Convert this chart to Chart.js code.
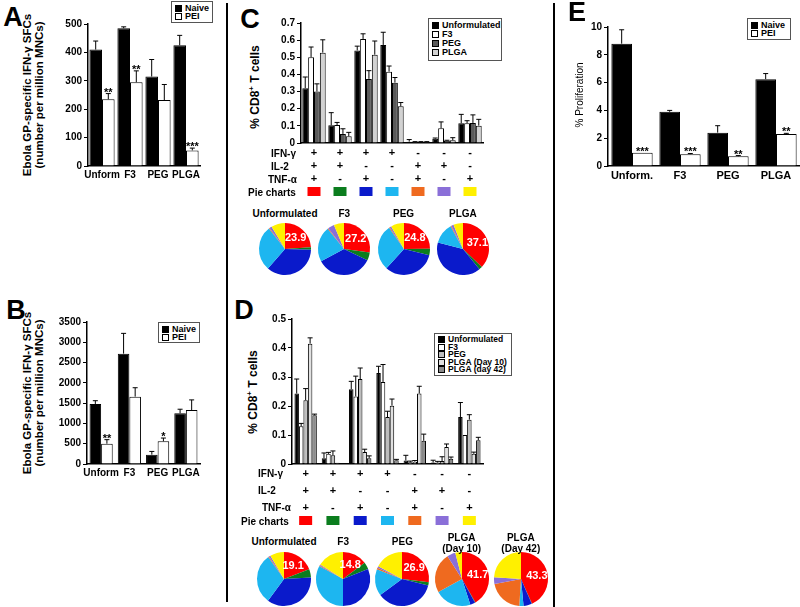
<!DOCTYPE html>
<html lang="en">
<head>
<meta charset="UTF-8">
<title>Ebola GP formulations</title>
<script src="https://cdn.jsdelivr.net/npm/chart.js"></script>
<style>
  body { margin: 0; background: #fff; }
  #fig { position: relative; width: 800px; height: 607px; overflow: hidden; font-family: "Liberation Sans", Arial, sans-serif; font-weight: bold; color: #000; }
  #fig canvas { position: absolute; }
  .t { position: absolute; white-space: nowrap; }
  .lg { position: absolute; border: 1px solid #555; background: #fff; font-size: 9px; line-height: 9px; padding: 2px 3px; box-sizing: border-box; white-space: nowrap; }
  .lg div { display: flex; align-items: center; }
  .lg span { display: inline-block; width: 7px; height: 7px; border: 1px solid #000; margin-right: 3px; box-sizing: border-box; flex: none; }
  .vline { position: absolute; width: 2px; background: #000; }
</style>
</head>
<body>
<div id="fig"></div>
<script>
  // ---- data ----
  const groups = ['Unform', 'F3', 'PEG', 'PLGA'];
  const groupsE = ['Unform.', 'F3', 'PEG', 'PLGA'];

  // A - IFN-γ SFCs per million MNCs
  const aNaive = [410, 485, 315, 425];
  const aNaiveErr = [30, 5, 60, 35];
  const aPei = [235, 295, 232, 55];
  const aPeiErr = [20, 40, 55, 8];
  const aSig = ['**', '**', '', '***'];

  // B
  const bNaive = [1480, 2720, 230, 1250];
  const bNaiveErr = [80, 500, 80, 100];
  const bPei = [500, 1660, 560, 1330];
  const bPeiErr = [100, 220, 80, 250];
  const bSig = ['**', '', '*', ''];

  // E - % proliferation
  const eNaive = [8.8, 3.9, 2.4, 6.25];
  const eNaiveErr = [1.0, 0.1, 0.5, 0.4];
  const ePei = [0.95, 0.85, 0.7, 2.3];
  const ePeiErr = [0, 0.05, 0.05, 0.05];
  const eSig = ['***', '***', '**', '**'];

  // cytokine combinations
  const ifn = ['+', '+', '+', '+', '-', '-', '-'];
  const il2 = ['+', '+', '-', '-', '+', '+', '-'];
  const tnf = ['+', '-', '+', '-', '+', '-', '+'];
  const comboColors = ['#ff0000', '#0b7d1e', '#0a1acb', '#1db6f0', '#ef6a1f', '#8a6fd8', '#fff000'];

  // C - % CD8+ T cells
  const cUnf = [0.32, 0.103, 0.54, 0.572, 0.008, 0.025, 0.115];
  const cUnfErr = [0.065, 0.074, 0.025, 0.074, 0.012, 0.004, 0.052];
  const cF3 = [0.50, 0.105, 0.607, 0.416, 0.005, 0.086, 0.115];
  const cF3Err = [0.06, 0.015, 0.03, 0.033, 0.003, 0.037, 0.015];
  const cPeg = [0.30, 0.053, 0.374, 0.352, 0.005, 0.013, 0.117];
  const cPegErr = [0.045, 0.03, 0.048, 0.03, 0.003, 0.003, 0.047];
  const cPlga = [0.527, 0.039, 0.515, 0.214, 0.005, 0.016, 0.101];
  const cPlgaErr = [0.075, 0.023, 0.08, 0.022, 0.003, 0.015, 0.037];

  // D
  const dUnf = [0.243, 0.02, 0.258, 0.314, 0.012, 0.005, 0.162];
  const dUnfErr = [0.05, 0.018, 0.027, 0.023, 0.018, 0.008, 0.05];
  const dF3 = [0.13, 0.035, 0.233, 0.283, 0.006, 0.005, 0.1];
  const dF3Err = [0.01, 0.005, 0.07, 0.06, 0.004, 0.004, 0];
  const dPeg = [0.22, 0.03, 0.293, 0.162, 0.008, 0.01, 0.153];
  const dPegErr = [0.04, 0.015, 0.038, 0.02, 0.004, 0.015, 0.017];
  const dPlga10 = [0.415, 0.004, 0.041, 0.201, 0.243, 0.059, 0.035];
  const dPlga10Err = [0.02, 0, 0.01, 0.023, 0.025, 0.01, 0.006];
  const dPlga42 = [0.168, 0.002, 0.02, 0.013, 0.08, 0.018, 0.082];
  const dPlga42Err = [0.004, 0, 0.008, 0.003, 0.023, 0.006, 0.01];

  // pie charts (share of each combination, %)
  const cPieTitles = ['Unformulated', 'F3', 'PEG', 'PLGA'];
  const cPies = [
    [23.9, 1.5, 36, 28, 0.5, 1.5, 8.6],
    [27.2, 5, 35, 22, 0.5, 4, 6.3],
    [24.8, 4, 33, 28.5, 0.5, 1, 8.2],
    [37.1, 2, 40, 13, 0.5, 1.5, 5.9]
  ];
  const dPieTitles = [['Unformulated'], ['F3'], ['PEG'], ['PLGA', '(Day 10)'], ['PLGA', '(Day 42)']];
  const dPies = [
    [19.1, 5, 36, 30, 0.5, 1, 8.4],
    [14.8, 4.2, 31, 33, 0.5, 0.5, 16],
    [26.9, 2, 36, 16, 1, 1, 17.1],
    [41.7, 0.3, 3, 22, 24, 5, 4],
    [43.3, 0.2, 5, 2.5, 21, 4, 24]
  ];

  // ---- helpers ----
  const fig = document.getElementById('fig');
  Chart.defaults.font.family = '"Liberation Sans", Arial, sans-serif';
  Chart.defaults.font.weight = 'bold';
  Chart.defaults.color = '#000';

  function addCanvas(x, y, w, h) {
    const c = document.createElement('canvas');
    c.width = w; c.height = h;
    c.style.left = x + 'px'; c.style.top = y + 'px';
    c.style.width = w + 'px'; c.style.height = h + 'px';
    fig.appendChild(c);
    return c;
  }

  function text(html, x, y, size, extra) {
    const d = document.createElement('div');
    d.className = 't';
    d.innerHTML = html;
    d.style.left = x + 'px';
    d.style.top = y + 'px';
    d.style.fontSize = size + 'px';
    d.style.transform = 'translate(-50%,-50%)';
    if (extra) Object.assign(d.style, extra);
    fig.appendChild(d);
    return d;
  }

  function legend(x, y, w, h, items, lh, fs) {
    const d = document.createElement('div');
    d.className = 'lg';
    Object.assign(d.style, { left: x + 'px', top: y + 'px', width: w + 'px', height: h + 'px', lineHeight: lh + 'px', fontSize: (fs || 9) + 'px' });
    d.innerHTML = items.map(it => `<div><span style="background:${it[1]}"></span>${it[0]}</div>`).join('');
    fig.appendChild(d);
  }

  const errorBars = {
    id: 'errorBars',
    afterDatasetsDraw(chart) {
      const ctx = chart.ctx, y = chart.scales.y;
      ctx.save();
      ctx.strokeStyle = '#000';
      ctx.lineWidth = 1;
      chart.data.datasets.forEach((ds, i) => {
        chart.getDatasetMeta(i).data.forEach((bar, j) => {
          const e = ds.err ? ds.err[j] : 0;
          const top = y.getPixelForValue(ds.data[j] + e);
          if (e > 0) {
            ctx.beginPath();
            ctx.moveTo(bar.x, bar.y);
            ctx.lineTo(bar.x, top);
            ctx.moveTo(bar.x - 2.5, top);
            ctx.lineTo(bar.x + 2.5, top);
            ctx.stroke();
          }
          if (ds.sig && ds.sig[j]) {
            ctx.fillStyle = '#000';
            ctx.font = 'bold 11px "Liberation Sans", Arial, sans-serif';
            ctx.textAlign = 'center';
            ctx.textBaseline = 'alphabetic';
            ctx.fillText(ds.sig[j], bar.x, top + 2);
          }
        });
      });
      ctx.restore();
    }
  };

  const swatches = {
    id: 'swatches',
    afterDraw(chart, args, opts) {
      if (!opts.y) return;
      const ctx = chart.ctx, x = chart.scales.x;
      comboColors.forEach((col, i) => {
        const px = x.getPixelForValue(i);
        ctx.fillStyle = col;
        ctx.fillRect(px - 6.5, chart.chartArea.bottom + opts.y, 13, 9);
      });
    }
  };

  function ds(label, data, err, color, sig) {
    return { label, data, err, sig, backgroundColor: color, borderColor: '#000', borderWidth: 1, borderSkipped: 'start' };
  }

  function barChart(box, labels, sets, max, step, o) {
    const yw = 30, pt = 10, pr = box.r >= 800 ? 0 : 4, xh = o.xh || 20;
    const c = addCanvas(box.l - yw, box.t - pt, box.r - box.l + yw + pr, box.b - box.t + pt + xh);
    new Chart(c, {
      type: 'bar',
      data: { labels, datasets: sets },
      options: {
        responsive: false, animation: false, devicePixelRatio: 1,
        layout: { padding: { top: pt, right: pr, left: 0, bottom: 0 } },
        datasets: { bar: { barPercentage: 1, categoryPercentage: o.cat } },
        plugins: { legend: { display: false }, tooltip: { enabled: false }, swatches: { y: o.swatchY } },
        scales: {
          x: {
            grid: { display: false, drawTicks: false },
            border: { color: '#000', width: 1.5 },
            ticks: { color: '#000', autoSkip: false, maxRotation: 0, padding: o.tickPad || 3, font: { size: o.xFont || 10, weight: 'bold', lineHeight: o.lineH || 1.2 } },
            afterFit: s => { s.height = xh; }
          },
          y: {
            min: 0, max,
            ticks: { stepSize: step, color: '#000', padding: 2, font: { size: 10, weight: 'bold' }, callback: v => String(Math.round(v * 100) / 100) },
            grid: { drawOnChartArea: false, color: '#000', tickLength: 4 },
            border: { color: '#000', width: 1.5 },
            afterFit: s => { s.width = yw; }
          }
        }
      },
      plugins: [errorBars, swatches]
    });
  }

  const pieLabel = {
    id: 'pieLabel',
    afterDraw(chart) {
      const arc = chart.getDatasetMeta(0).data[0];
      const mid = (arc.startAngle + arc.endAngle) / 2;
      const r = arc.outerRadius * 0.6;
      const ctx = chart.ctx;
      ctx.save();
      ctx.fillStyle = '#fff';
      ctx.font = 'bold 11px "Liberation Sans", Arial, sans-serif';
      ctx.textAlign = 'center';
      ctx.textBaseline = 'middle';
      ctx.fillText(chart.data.datasets[0].data[0].toFixed(1), arc.x + Math.cos(mid) * r, arc.y + Math.sin(mid) * r);
      ctx.restore();
    }
  };

  function pie(cx, cy, r, values) {
    const pad = 4;
    const c = addCanvas(cx - r - pad, cy - r - pad, 2 * (r + pad), 2 * (r + pad));
    new Chart(c, {
      type: 'pie',
      data: { labels: ifn.map((v, i) => v + il2[i] + tnf[i]), datasets: [{ data: values, backgroundColor: comboColors, borderWidth: 0, hoverOffset: 0 }] },
      options: {
        responsive: false, animation: false, devicePixelRatio: 1,
        layout: { padding: pad },
        plugins: { legend: { display: false }, tooltip: { enabled: false } }
      },
      plugins: [pieLabel]
    });
  }

  // ---- panels ----
  const combos = ifn.map((v, i) => [v, il2[i], tnf[i]]);

  barChart({ l: 88, r: 200, t: 24, b: 166 }, groups,
    [ds('Naive', aNaive, aNaiveErr, '#000'), ds('PEI', aPei, aPeiErr, '#fff', aSig)], 500, 100, { cat: 0.9 });

  barChart({ l: 87, r: 200, t: 322, b: 464 }, groups,
    [ds('Naive', bNaive, bNaiveErr, '#000'), ds('PEI', bPei, bPeiErr, '#fff', bSig)], 3500, 500, { cat: 0.82 });

  barChart({ l: 301, r: 483, t: 23, b: 143 }, combos,
    [ds('Unformulated', cUnf, cUnfErr, '#000'), ds('F3', cF3, cF3Err, '#fff'),
     ds('PEG', cPeg, cPegErr, '#5a5a5a'), ds('PLGA', cPlga, cPlgaErr, '#d2d2d2')],
    0.7, 0.1, { cat: 0.9, xh: 60, xFont: 11, lineH: 13 / 11, tickPad: 3, swatchY: 44 });

  barChart({ l: 292, r: 483, t: 319, b: 464 }, combos,
    [ds('Unformulated', dUnf, dUnfErr, '#000'), ds('F3', dF3, dF3Err, '#fff'),
     ds('PEG', dPeg, dPegErr, '#bdbdbd'), ds('PLGA (Day 10)', dPlga10, dPlga10Err, '#e0e0e0'),
     ds('PLGA (day 42)', dPlga42, dPlga42Err, '#8c8c8c')],
    0.5, 0.1, { cat: 0.82, xh: 70, xFont: 11, lineH: 17 / 11, tickPad: 1, swatchY: 52 });

  barChart({ l: 608, r: 800, t: 27, b: 166 }, groupsE,
    [ds('Naive', eNaive, eNaiveErr, '#000'), ds('PEI', ePei, ePeiErr, '#fff', eSig)], 10, 2, { cat: 0.86, xFont: 11 });

  cPies.forEach((v, i) => {
    const cx = 285 + i * 59.3;
    pie(cx, 249, 26, v);
    text(cPieTitles[i], cx, 213, 10);
  });
  dPies.forEach((v, i) => {
    const cx = 284 + i * 59.2;
    pie(cx, 579, 27, v);
    if (dPieTitles[i].length > 1) {
      text(dPieTitles[i][0], cx, 537, 10);
      text(dPieTitles[i][1], cx, 548, 10);
    } else {
      text(dPieTitles[i][0], cx, 541, 10);
    }
  });

  // panel letters
  text('A', 13, 17, 27);
  text('B', 16, 310, 27);
  text('C', 250, 19, 27);
  text('D', 244, 310, 27);
  text('E', 577, 12, 27);

  // axis titles
  const rot = { transform: 'translate(-50%,-50%) rotate(-90deg)', textAlign: 'center', lineHeight: '12px' };
  text('Ebola GP-specific IFN-&gamma; SFCs<br>(number per million MNCs)', 33, 95, 11.5, rot);
  text('Ebola GP-specific IFN-&gamma; SFCs<br>(number per million MNCs)', 33, 393, 11.5, rot);
  text('% CD8<sup style="font-size:8px">+</sup> T cells', 253, 87, 12, rot);
  text('% CD8<sup style="font-size:8px">+</sup> T cells', 251, 392, 12, rot);
  text('% Proliferation', 580, 95, 10, Object.assign({}, rot, { fontWeight: 'normal' }));

  // row labels
  const left = { transform: 'translate(0,-50%)' };
  text('IFN-&gamma;', 271, 153, 10, left);
  text('IL-2', 271, 166, 10, left);
  text('TNF-&alpha;', 268, 179, 10, left);
  text('Pie charts', 248, 192, 10, left);
  text('IFN-&gamma;', 258, 473, 10, left);
  text('IL-2', 258, 490, 10, left);
  text('TNF-&alpha;', 262, 507, 10, left);
  text('Pie charts', 241, 521, 10, left);

  // legends
  legend(171, 1, 42, 22, [['Naive', '#000'], ['PEI', '#fff']], 8);
  legend(158, 322, 42, 21, [['Naive', '#000'], ['PEI', '#fff']], 8);
  legend(747, 18, 44, 22, [['Naive', '#000'], ['PEI', '#fff']], 8);
  legend(428, 18, 74, 43, [['Unformulated', '#000'], ['F3', '#fff'], ['PEG', '#5a5a5a'], ['PLGA', '#d2d2d2']], 9);
  legend(434, 333, 78, 43, [['Unformulated', '#000'], ['F3', '#fff'], ['PEG', '#bdbdbd'], ['PLGA (Day 10)', '#e0e0e0'], ['PLGA (day 42)', '#8c8c8c']], 7.5, 8.5);

  // panel dividers
  [[226, 3, 599], [553, 3, 604]].forEach(v => {
    const d = document.createElement('div');
    d.className = 'vline';
    Object.assign(d.style, { left: v[0] + 'px', top: v[1] + 'px', height: v[2] + 'px' });
    fig.appendChild(d);
  });
</script>
</body>
</html>
